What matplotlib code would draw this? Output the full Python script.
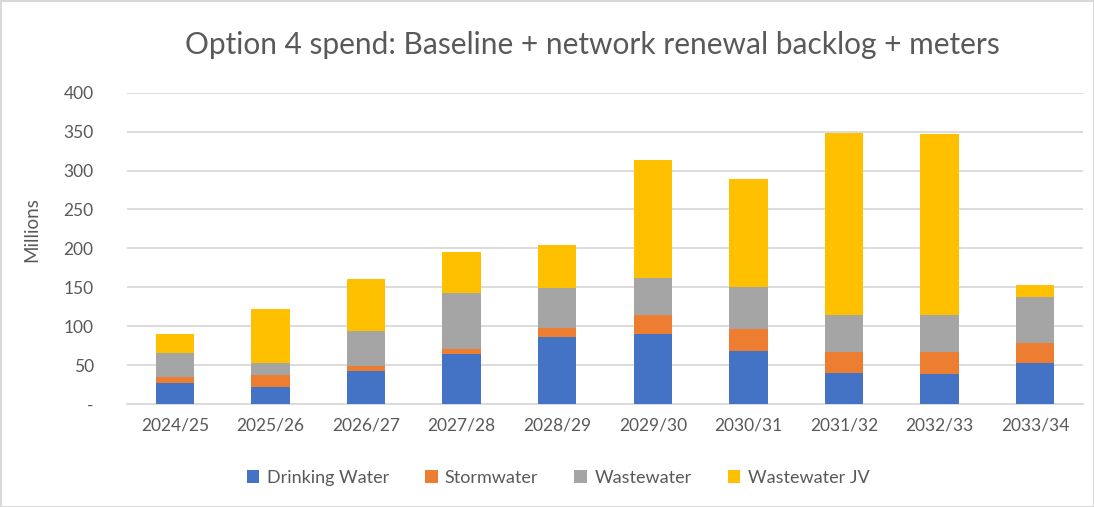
import matplotlib
matplotlib.use("Agg")
import matplotlib.pyplot as plt
import numpy as np
from matplotlib.patches import Rectangle

years = ["2024/25", "2025/26", "2026/27", "2027/28", "2028/29",
         "2029/30", "2030/31", "2031/32", "2032/33", "2033/34"]
drinking_water = [26.6, 22.3, 42.4, 64.7, 86.1, 90.4, 68.5, 39.8, 38.1, 52.7]
stormwater = [8.5, 14.5, 6.4, 5.5, 11.5, 23.9, 27.9, 27.4, 29.1, 25.7]
wastewater = [30.4, 15.9, 45.0, 72.4, 51.9, 48.0, 54.3, 47.1, 47.1, 59.5]
wastewater_jv = [24.5, 69.3, 67.2, 53.1, 54.8, 150.8, 138.0, 233.9, 232.2, 14.6]

series = [
    ("Drinking Water", drinking_water, "#4472C4"),
    ("Stormwater", stormwater, "#ED7D31"),
    ("Wastewater", wastewater, "#A5A5A5"),
    ("Wastewater JV", wastewater_jv, "#FFC000"),
]
y_ticks = [0, 50, 100, 150, 200, 250, 300, 350, 400]
y_tick_labels = ["-", "50", "100", "150", "200", "250", "300", "350", "400"]

plt.rcParams["font.family"] = ["Lato", "DejaVu Sans"]
text_color = "#595959"
grid_color = "#D9D9D9"

W, H = 1094, 507
fig = plt.figure(figsize=(W / 100, H / 100), dpi=100)
ax = fig.add_axes([127 / W, 1 - 404 / H, (1083 - 127) / W, (404 - 92.7) / H])

x = np.arange(len(years))
bottom = np.zeros(len(years))
handles = []
for name, vals, color in series:
    vals = np.array(vals)
    b = ax.bar(x, vals, width=0.4, bottom=bottom, color=color, label=name, zorder=3)
    handles.append(b)
    bottom += vals

ax.set_xlim(-0.5, len(years) - 0.5)
ax.set_ylim(0, 400)
ax.set_yticks(y_ticks)
ax.set_yticklabels(y_tick_labels)
ax.set_xticks(x)
ax.set_xticklabels(years)
ax.tick_params(axis="both", length=0, colors=text_color, labelsize=12.5)
ax.tick_params(axis="y", pad=24)
ax.tick_params(axis="x", pad=10)
for lbl in ax.get_yticklabels():
    lbl.set_horizontalalignment("right")

ax.yaxis.grid(True, color=grid_color, linewidth=1.3, zorder=0)
for s in ["top", "right", "left"]:
    ax.spines[s].set_visible(False)
ax.spines["bottom"].set_color(grid_color)
ax.spines["bottom"].set_linewidth(1.3)

fig.text(32 / W, 1 - 230 / H, "Millions", rotation=90, ha="center", va="center",
         fontsize=13.5, color=text_color)
fig.text(592 / W, 1 - 45 / H, "Option 4 spend: Baseline + network renewal backlog + meters",
         ha="center", va="center", fontsize=21.5, color=text_color)

fig.legend(handles=handles, loc="center", bbox_to_anchor=(558 / W, 1 - 478 / H),
           ncol=4, frameon=False, fontsize=13, labelcolor=text_color,
           handlelength=0.7, handleheight=0.7, handletextpad=0.4, columnspacing=2.0)

# chart area border
fig.patches.append(Rectangle((0.5 / W, 0.5 / H), 1 - 1 / W, 1 - 1 / H, transform=fig.transFigure,
                             fill=False, edgecolor="#D9D9D9", linewidth=1.5))

fig.savefig("out.png", dpi=100)
